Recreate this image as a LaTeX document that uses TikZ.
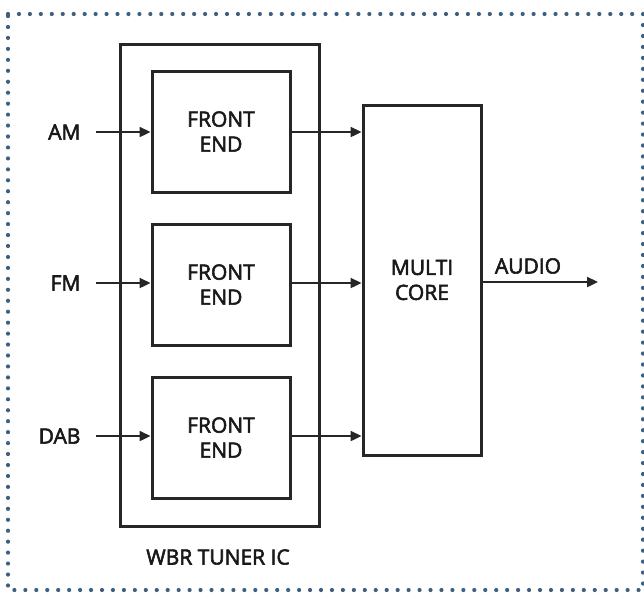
\documentclass[tikz,border=0pt]{standalone}
\usepackage{fontspec}
\setmainfont{Open Sans}
\newfontfamily\lblfont{Open Sans}[RawFeature={embolden=2.6}]
\usetikzlibrary{arrows.meta}
\definecolor{dotblue}{HTML}{3D5F80}
\begin{document}
\begin{tikzpicture}[x=1pt,y=-1pt,
  box/.style={draw=black!85,line width=3pt,inner sep=0pt},
  lbl/.style={font=\lblfont\fontsize{21}{25}\selectfont,text=black!90,align=center},
  conn/.style={draw=black!85,line width=2.3pt,-{Triangle[length=11pt,width=10pt]}}]
\useasboundingbox (0,0) rectangle (644,592);
\draw[dotblue,line width=4.2pt,line cap=round,dash pattern=on 0pt off 10.95pt] (8,14) -- (643,14) -- (643,590) -- (8,590) -- cycle;
\node[box,minimum width=199pt,minimum height=482pt] (wbr) at (219.5,285) {};
\node[box,minimum width=138pt,minimum height=121pt,lbl] (fe1) at (221,131.5) {FRONT\\END};
\node[box,minimum width=138pt,minimum height=121pt,lbl] (fe2) at (221,284.5) {FRONT\\END};
\node[box,minimum width=138pt,minimum height=121pt,lbl] (fe3) at (221,437.5) {FRONT\\END};
\node[box,minimum width=118pt,minimum height=350pt,lbl] (mc) at (422,280) {MULTI\\CORE};
\node[lbl,anchor=east] (am) at (84,132) {AM};
\node[lbl,anchor=east] (fm) at (84,283) {FM};
\node[lbl,anchor=east] (dab) at (84,436) {DAB};
\node[lbl] (audio) at (528,266) {AUDIO};
\node[lbl] (wbrl) at (218,557) {WBR TUNER IC};
\coordinate (amS) at (96,132);
\coordinate (fmS) at (96,283);
\coordinate (dabS) at (96,436);
\coordinate (audioE) at (598,282);
\draw[conn] (amS) -- (amS -| fe1.west);
\draw[conn] (fmS) -- (fmS -| fe2.west);
\draw[conn] (dabS) -- (dabS -| fe3.west);
\draw[conn] (amS -| fe1.east) -- (amS -| mc.west);
\draw[conn] (fmS -| fe2.east) -- (fmS -| mc.west);
\draw[conn] (dabS -| fe3.east) -- (dabS -| mc.west);
\draw[conn] (audioE -| mc.east) -- (audioE);
\end{tikzpicture}
\end{document}
